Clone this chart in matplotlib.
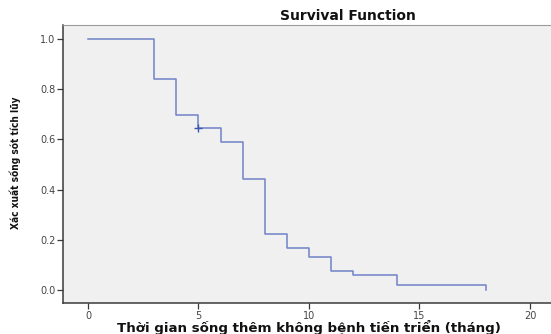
import matplotlib
matplotlib.use('Agg')
import matplotlib.pyplot as plt

# Kaplan-Meier step values
times = [0, 3, 4, 5, 6, 7, 8, 9, 10, 11, 12, 14, 18]
surv = [1.0, 0.84, 0.697, 0.645, 0.59, 0.442, 0.223, 0.167, 0.13, 0.077, 0.058, 0.02, 0.0]
cens_t = [5]
cens_s = [0.645]

LINE = '#6f82c8'
AXC = '#3a3a3a'

fig = plt.figure(figsize=(5.51, 3.34), dpi=100)
ax = fig.add_axes([63/551, 1 - 303/334, (551 - 63)/551, (303 - 25)/334])
ax.set_facecolor('#f0f0f0')

ax.step(times, surv, where='post', color=LINE, lw=1.1)
ax.plot(cens_t, cens_s, '+', color='#3b55b0', ms=6, mew=1.0)

ax.set_xlim(-1.13, 20.95)
ax.set_ylim(-0.052, 1.056)
ax.set_xticks([0, 5, 10, 15, 20])
ax.set_yticks([0.0, 0.2, 0.4, 0.6, 0.8, 1.0])
ax.set_yticklabels(['0.0', '0.2', '0.4', '0.6', '0.8', '1.0'])
ax.tick_params(axis='both', labelsize=7, colors=AXC, length=4, width=0.9,
               labelcolor='#444444', pad=1.5)
for s in ['left', 'bottom']:
    ax.spines[s].set_color(AXC)
    ax.spines[s].set_linewidth(1.1)
ax.spines['top'].set_color('#9a9a9a')
ax.spines['right'].set_visible(False)

fig.text(348/551, 1 - 16/334, 'Survival Function', ha='center', va='center',
         fontsize=10, fontweight='bold', family='DejaVu Sans', color='#111111')
fig.text(309/551, 1 - 332/334, 'Thời gian sống thêm không bệnh tiến triển (tháng)',
         ha='center', va='baseline', fontsize=9.6, fontweight='bold',
         family='DejaVu Sans', color='#111111')
fig.text(15/551, 1 - 163/334, 'Xác xuất sống sót tích lũy', ha='center', va='center',
         rotation=90, fontsize=7.3, fontweight='bold', fontstretch='condensed',
         family='DejaVu Sans', color='#111111')

fig.savefig('out.png', dpi=100)
